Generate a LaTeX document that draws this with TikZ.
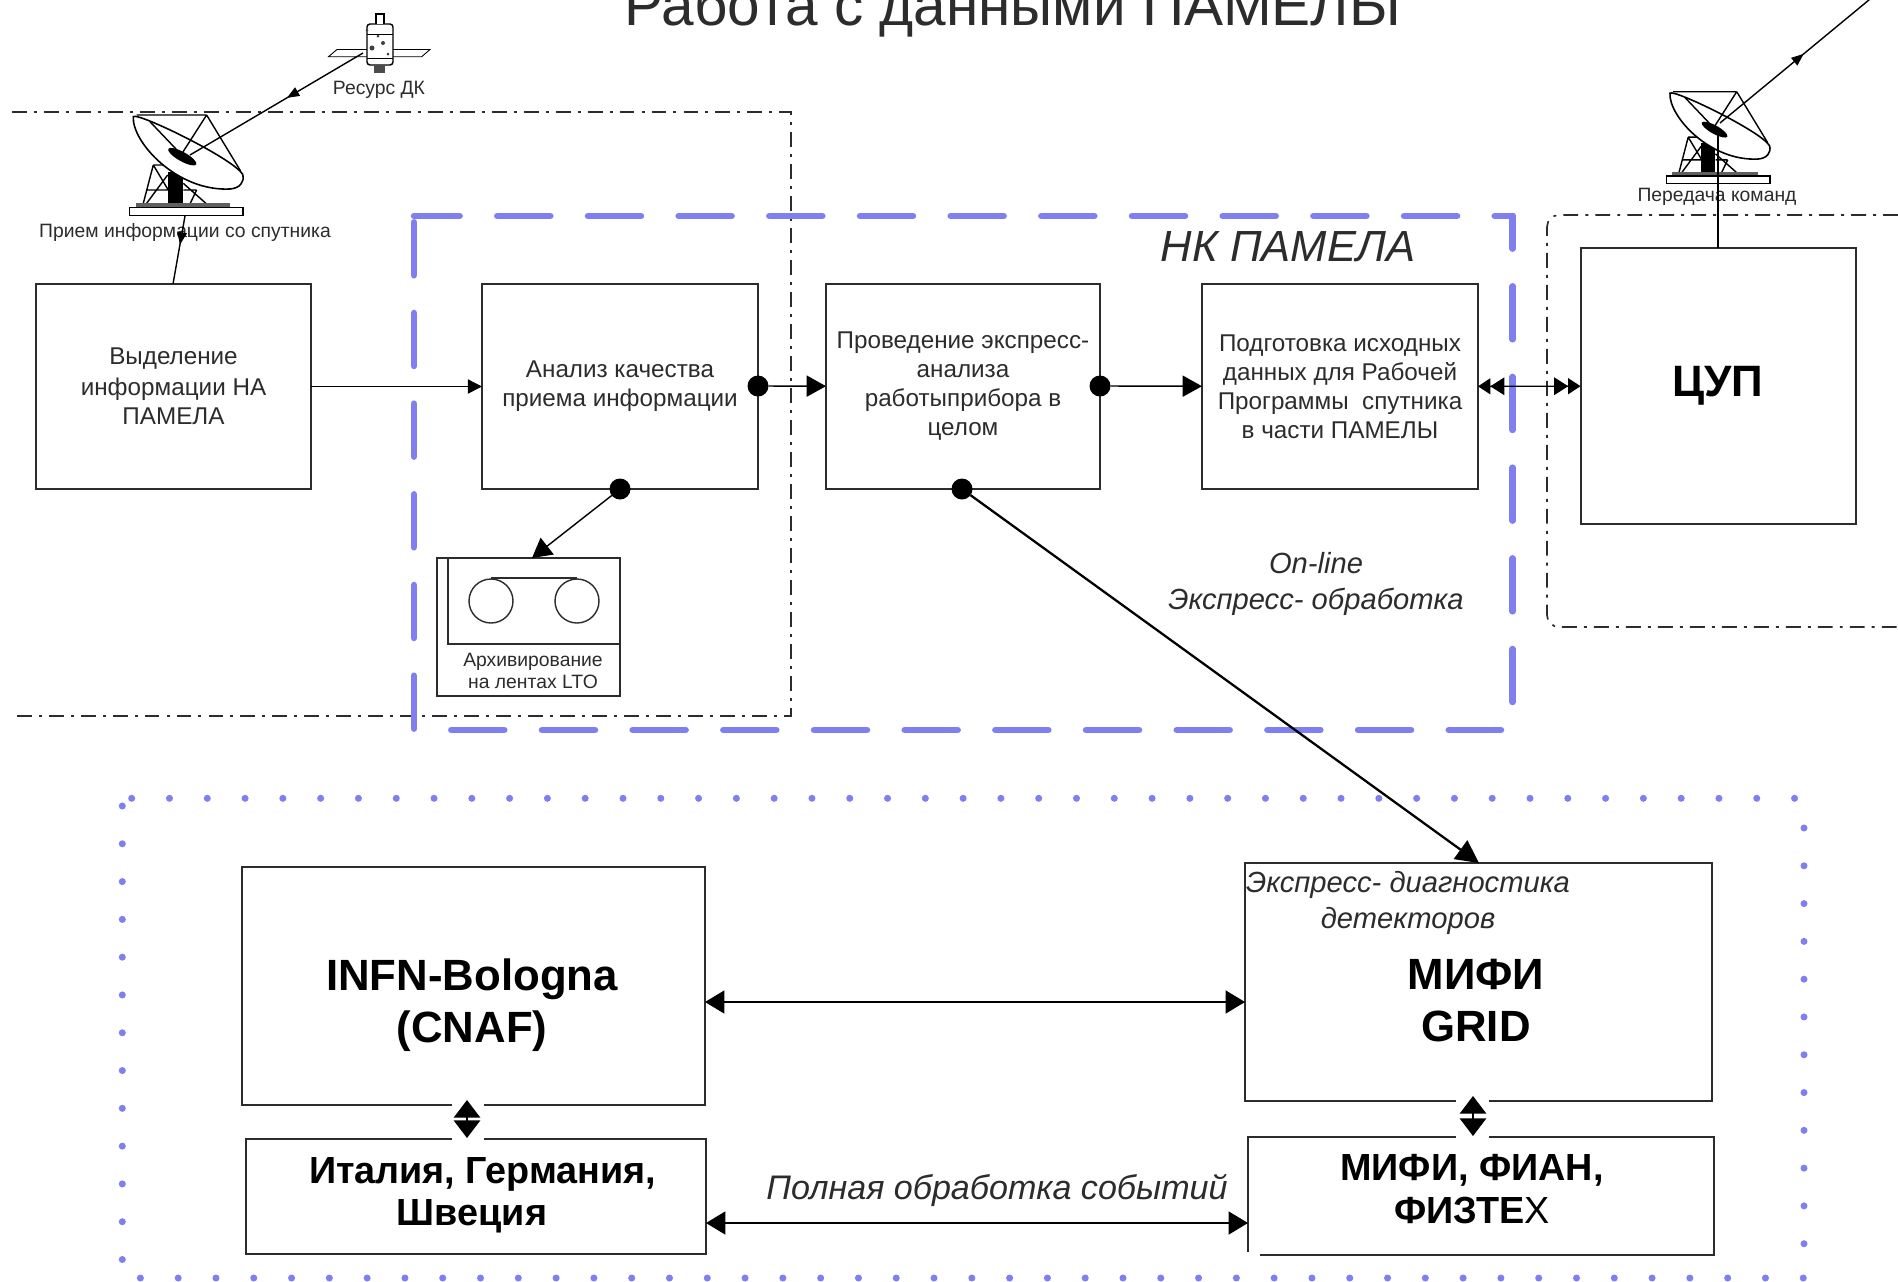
\documentclass[tikz,border=0pt]{standalone}
\usepackage{fontspec}
\setmainfont{Liberation Sans}
\usetikzlibrary{arrows.meta,calc,decorations.markings}
\definecolor{bluedash}{HTML}{7F7FF0}
\definecolor{ink}{HTML}{2C2C2C}
\def\px{0.02cm}
\tikzset{
  boxn/.style={draw=ink,line width=1.15pt,rectangle,inner sep=0pt,outer sep=0pt,align=center,text=ink},
  small/.style={font=\fontsize{13.8}{16.5}\selectfont},
  tiny/.style={inner sep=0pt,font=\fontsize{11}{13}\selectfont,text=ink,align=center},
  ital/.style={inner sep=0pt,font=\fontsize{16.6}{20}\selectfont\itshape,text=ink,align=center},
  boldb/.style={inner sep=0pt,font=\fontsize{24.9}{29.6}\selectfont\bfseries,text=black,align=center},
  boldc/.style={inner sep=0pt,font=\fontsize{21.5}{24}\selectfont\bfseries,text=black,align=center},
  dot/.style={circle,fill=black,inner sep=0pt,outer sep=0pt,minimum size=21*\px},
  dashdot/.style={draw=ink,line width=0.95pt,dash pattern=on 8.5pt off 4pt on 1.7pt off 4pt},
  bluesq/.style={draw=bluedash,line width=3.7pt,line cap=round,dash pattern=on 30.16pt off 21.45pt},
  bluedot/.style={draw=bluedash,line width=4pt,line cap=round,dash pattern=on 0pt off 21.51pt},
  conn/.style={draw=black,line width=0.8pt},
  big/.style={-{Triangle[length=11pt,width=12pt]}},
  mask/.style={fill=white,draw=none},
  midarrow/.style={postaction={decorate,decoration={markings,mark=at position #1 with {\arrow{Triangle[length=7pt,width=5.5pt]}}}}},
}
\newcommand{\dishshape}{%
  \fill[black] (103,170) rectangle (148,267);
  \draw[line width=0.8pt] (60,150)--(30,265) (60,150)--(105,225) (103,180)--(40,265) (40,225)--(103,225)
     (150,225)--(190,225) (150,205)--(220,267) (190,225)--(170,267) (60,150)--(103,150);
  \fill[gray!75!black] (8,265) rectangle (290,280);
  \draw[line width=0.9pt,fill=white] (-12,277) rectangle (330,302);
  \draw[line width=0.9pt,fill=white] (0,5) .. controls (-5,80) and (130,230) .. (290,222) .. controls (320,220) and (335,200) .. (328,178) .. controls (300,130) and (10,-10) .. (0,5) -- cycle;
  \draw[line width=0.8pt] (10,0)--(220,0) (220,0)--(140,125) (220,0)--(322,168) (50,20)--(150,125);
  \fill[black,rotate around={-29:(147,125)}] (147,125) ellipse [x radius=48,y radius=14];
}
\begin{document}
\begin{tikzpicture}[x=0.02cm,y=-0.02cm]
\path[use as bounding box,fill=white] (0,0) rectangle (1898,1282);
% title
\node[inner sep=0pt,anchor=base,font=\fontsize{33.3}{36}\selectfont,text=ink] (title) at (1013,25) {Работа с данными ПАМЕЛЫ};
% regions
\draw[dashdot] (12,112)--(791,112)--(791,716)--(12,716);
\draw[dashdot,rounded corners=12*\px] (1898,215)--(1547,215)--(1547,627)--(1898,627);
\draw[bluesq,dash phase=4.2pt] (414,216)--(1512.7,216);
\draw[bluesq] (414,222.3)--(414,735);
\draw[bluesq,dash phase=11.6pt] (1512.7,216)--(1512.7,705);
\draw[bluesq] (451.3,730)--(1501,730);
\draw[bluedot] (131.7,798.3)--(1804,798.3);
\draw[bluedot] (122.3,806)--(122.3,1280);
\draw[bluedot] (140.4,1278)--(1804,1278);
\draw[bluedot] (1804,828)--(1804,1270);
% boxes
\node[boxn,small,minimum width=275*\px,minimum height=205*\px] (box1) at (173.5,386.5) {\raisebox{1pt}{Выделение}\\информации НА\\ПАМЕЛА};
\node[boxn,small,minimum width=276*\px,minimum height=205*\px] (box2) at (620,386.5) {Анализ качества\\приема информации};
\node[boxn,small,minimum width=274*\px,minimum height=205*\px] (box3) at (963,386.5) {Проведение экспресс-\\анализа\\работыприбора в\\целом};
\node[boxn,small,minimum width=276*\px,minimum height=205*\px] (box4) at (1340,386.5) {Подготовка исходных\\данных для Рабочей\\Программы\ \ спутника\\в части ПАМЕЛЫ};
\node[boxn,minimum width=275*\px,minimum height=276*\px,font=\fontsize{25}{28}\selectfont\bfseries,text=black] (cup) at (1718,386) {\raisebox{-1.5pt}{ЦУП}};
% tape
\node[boxn,minimum width=183*\px,minimum height=138*\px] (tape) at (528.5,627) {};
\draw[draw=ink,line width=1.15pt] (448,558)--(448,644)--(620,644);
\node[circle,draw=ink,line width=0.8pt,minimum size=44*\px,inner sep=0pt] (reel1) at (491,601) {};
\node[circle,draw=ink,line width=0.8pt,minimum size=44*\px,inner sep=0pt] (reel2) at (577,601) {};
\draw[draw=ink,line width=1.1pt] (reel1.north)--(reel2.north);
\node[tiny] (tapelab) at (533,671) {Архивирование\\на лентах LTO};
% lower boxes
\node[boxn,minimum width=463*\px,minimum height=238*\px] (infn) at (473.5,986) {};
\node[boxn,minimum width=467*\px,minimum height=238*\px] (grid) at (1478.5,982) {};
\node[boxn,minimum width=460*\px,minimum height=115*\px] (ital) at (476,1196.5) {};
\node[boxn,minimum width=466*\px,minimum height=118*\px] (mfe) at (1481,1196) {};
\fill[mask] (452,1095) rectangle (484,1145);
\fill[mask] (1456,1092) rectangle (1489,1143);
\fill[mask] (1243,1252) rectangle (1260,1259);
% texts
\node[boldb] (infnlab) at (472,1005) {INFN-Bologna\\(CNAF)};
\node[boldb] (gridlab) at (1476,1001) {МИФИ\\GRID};
\node[boldc] (itallab) at (472,1195) {\hspace*{12pt}Италия, Германия,\\Швеция};
\node[boldc] (mfelab) at (1472,1189) {МИФИ, ФИАН,\\ФИЗТЕ{\mdseries Х}};
\node[ital,font=\fontsize{24.8}{28}\selectfont\itshape] (nk) at (1288,247) {НК ПАМЕЛА};
\node[ital] (online) at (1316,584) {On-line\\Экспресс- обработка};
\node[ital] (diag) at (1408,903) {Экспресс- диагностика\\детекторов};
\node[ital,font=\fontsize{19.4}{22}\selectfont\itshape] (full) at (997,1190.5) {Полная обработка событий};
% dishes
\begin{scope}[shift={(133.3,115)},scale=0.3333]\dishshape\end{scope}
\begin{scope}[shift={(1670,91.7)},scale=0.3033]\dishshape\end{scope}
\coordinate (dishA) at (190,155);
\coordinate (dishAb) at (185,216);
\coordinate (dishB) at (1720,123);
\coordinate (dishBb) at (1718,133);
\coordinate (sky) at (1881,-10);
% satellite
\coordinate (sat) at (363,53);
\fill[white,draw=black,line width=0.5pt] (328.5,56.7)--(337,49.5)--(430,49.5)--(421.7,56.7)--cycle;
\draw[black,line width=0.8pt,fill=white,rounded corners=3*\px] (367,24)rectangle(393,65);
\draw[black,line width=0.6pt,fill=white] (376,24)--(376,14)--(384,14)--(384,24);
\fill[black!70] (374,65)rectangle(385,73);
\fill[black!75] (372,48) circle (2.5) (383,43) circle (2) (388,54) circle (1.5) (367,30) circle (1.5) (378,36) circle (1.5);
\draw[black,line width=0.5pt] (367,34)--(393,34) (367,58)--(393,58);
\node[tiny] (satlab) at (379,90) {Ресурс ДК};
\node[tiny] (recv) at (185,232.5) {Прием информации со спутника};
\node[tiny] (send) at (1717,197) {Передача команд};
% connectors
\draw[conn,midarrow=0.44] (sat)--(dishA);
\draw[conn,midarrow=0.42] (dishAb)--(box1.north -| 173,284);
\draw[conn,midarrow=0.52] (dishB)--(sky);
\draw[conn] (dishBb)--(cup.north -| dishBb);
\draw[conn,-{Triangle[length=8pt,width=8pt]}] (box1)--(box2);
\node[dot] (dotA) at (758,386) {};
\node[dot] (dotB) at (1100,386) {};
\node[dot] (dotC) at (962,489) {};
\node[dot] (dotD) at (620,489) {};
\draw[conn,big] (dotA)--(box3);
\draw[conn,big] (dotB)--(box4);
\draw[conn,big] (dotD)--(532,558);
\coordinate (gridIn) at (1479,863);
\draw[black,line width=1.3pt,-{Triangle[length=13pt,width=13pt]}] (dotC)--(gridIn);
\draw[conn,{Triangle[length=7pt,width=9pt]Triangle[length=8pt,width=10pt]}-{Triangle[length=8pt,width=10pt]Triangle[length=7pt,width=9pt]}] (box4)--(cup);
\coordinate (c1) at (900,1002);
\coordinate (c2) at (900,1223);
\draw[black,line width=1.1pt,{Triangle[length=11pt,width=13pt]}-{Triangle[length=11pt,width=13pt]}] (infn.east |- c1)--(grid.west |- c1);
\draw[black,line width=1.1pt,{Triangle[length=11pt,width=13pt]}-{Triangle[length=11pt,width=13pt]}] (ital.east |- c2)--(mfe.west |- c2);
\coordinate (u1) at (467,1100);\coordinate (u2) at (467,1138);
\coordinate (v1) at (1473,1096);\coordinate (v2) at (1473,1136);
\draw[black,line width=0.8pt,{Triangle[length=10pt,width=15pt]}-{Triangle[length=10pt,width=15pt]}] (u1)--(u2);
\draw[black,line width=0.8pt,{Triangle[length=10pt,width=15pt]}-{Triangle[length=10pt,width=15pt]}] (v1)--(v2);
\end{tikzpicture}
\end{document}
